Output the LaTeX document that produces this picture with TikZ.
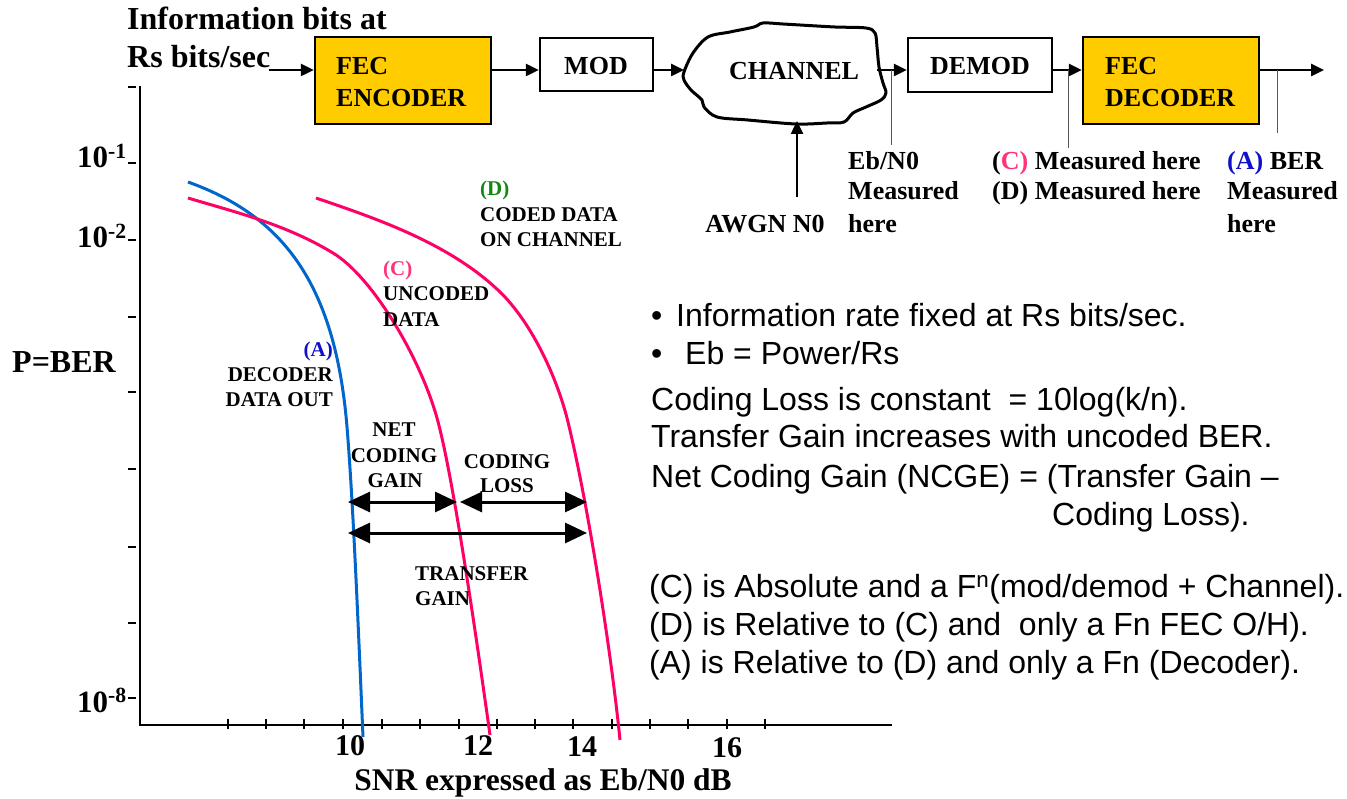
\documentclass[tikz,border=0pt]{standalone}
\usepackage{fontspec}
\setmainfont{Liberation Serif}
\newfontfamily\notefont{Liberation Sans}
\usetikzlibrary{arrows.meta}
\definecolor{fecfill}{HTML}{FFCC00}
\definecolor{curveA}{HTML}{0066CC}
\definecolor{curveC}{HTML}{FF0066}
\definecolor{tagA}{HTML}{1010CC}
\definecolor{tagC}{HTML}{FF3377}
\definecolor{tagD}{HTML}{118811}
\definecolor{tapgray}{HTML}{555555}
\newcommand{\fs}[1]{\fontsize{#1}{#1}\selectfont}
\begin{document}
\begin{tikzpicture}[x=1pt,y=-1pt,
  blk/.style={draw=black, line width=2.5pt, inner sep=0},
  fecblk/.style={blk, fill=fecfill},
  blklbl/.style={inner sep=0, font=\bfseries\fs{26}},
  flowarrow/.style={line width=2.5pt, -{Triangle[length=13pt,width=12pt]}},
  tapline/.style={draw=tapgray, line width=1pt},
  plotaxis/.style={line width=2.5pt},
  axtick/.style={line width=2pt},
  berline/.style={line width=3pt},
  plbl/.style={inner sep=0, font=\bfseries\fs{21}},
  gainarrow/.style={line width=3pt, {Triangle[length=22pt,width=20pt]}-{Triangle[length=22pt,width=20pt]}},
  ylbl/.style={inner sep=0, anchor=base east, font=\bfseries\fs{31}},
  xlbl/.style={inner sep=0, anchor=base, font=\bfseries\fs{30}},
  textnote/.style={inner sep=0, anchor=base west, font=\notefont\fs{32}},
]
\useasboundingbox (0,0) rectangle (1347,799);

% ---------------- block chain ----------------
\node[inner sep=0, anchor=base west, font=\bfseries\fs{32}] (info1) at (127,30) {Information bits at};
\node[inner sep=0, anchor=base west, font=\bfseries\fs{32}] (info2) at (127,68) {Rs bits/sec};

\node[fecblk, minimum width=176pt, minimum height=87pt] (enc) at (403,80.5) {};
\node[blk, minimum width=113pt, minimum height=53pt] (mod) at (596.5,64.5) {};
\node[blk, minimum width=144pt, minimum height=54pt] (demod) at (980,65) {};
\node[fecblk, minimum width=176pt, minimum height=87pt] (dec) at (1171,80.5) {};

\node[blklbl, anchor=base west] (enc1) at (336,75) {FEC};
\node[blklbl, anchor=base west] (enc2) at (336,107) {ENCODER};
\node[blklbl, anchor=base] (modl) at (596,75) {MOD};
\node[blklbl, anchor=base] (deml) at (980,75) {DEMOD};
\node[blklbl, anchor=base west] (dec1) at (1105,75) {FEC};
\node[blklbl, anchor=base west] (dec2) at (1105,107) {DECODER};

% channel cloud
\draw[line width=3pt, line join=round]
  plot[smooth cycle, tension=0.55] coordinates {
    (684,72) (693,53) (708,37) (730,32) (754,27) (763,23) (783,24)
    (800,25) (835,27) (866,28) (875,33) (877,47) (879,67) (883,83)
    (886,93) (881,100) (866,107) (853,113) (844,122) (827,123)
    (796,124) (748,120) (717,117) (704,107) (702,100) (691,90) (684,80)};
\node[blklbl, anchor=base] (chl) at (794,80) {CHANNEL};

\coordinate (src) at (269,70);
\coordinate (chin) at (684,70);
\coordinate (chout) at (877,70);
\coordinate (sink) at (1324,70);
\coordinate (noise) at (797,197);
\coordinate (chbot) at (797,121);

\draw[flowarrow] (src) -- (src -| enc.west);
\draw[flowarrow] (src -| enc.east) -- (src -| mod.west);
\draw[flowarrow] (src -| mod.east) -- (chin);
\draw[flowarrow] (chout) -- (src -| demod.west);
\draw[flowarrow] (src -| demod.east) -- (src -| dec.west);
\draw[flowarrow] (src -| dec.east) -- (sink);
\draw[flowarrow] (noise) -- (chbot);

% measurement taps
\coordinate (tapE) at (891,70);  \coordinate (tapEend) at (891,145);
\coordinate (tapC) at (1068,70); \coordinate (tapCend) at (1068,148);
\coordinate (tapA) at (1277,70); \coordinate (tapAend) at (1277,133);
\draw[tapline] (tapE) -- (tapEend);
\draw[tapline] (tapC) -- (tapCend);
\draw[tapline] (tapA) -- (tapAend);

\node[blklbl, anchor=base] (awgn) at (765,233) {AWGN N0};
\node[blklbl, anchor=base west] (eb1) at (848,170) {Eb/N0};
\node[blklbl, anchor=base west] (eb2) at (848,200) {Measured};
\node[blklbl, anchor=base west] (eb3) at (848,233) {here};
\node[blklbl, anchor=base west] (mc) at (992,170) {(\textcolor{tagC}{C)} Measured here};
\node[blklbl, anchor=base west] (md) at (992,200) {(D) Measured here};
\node[blklbl, anchor=base west] (ma1) at (1227,170) {\textcolor{tagA}{(A)} BER};
\node[blklbl, anchor=base west] (ma2) at (1227,200) {Measured};
\node[blklbl, anchor=base west] (ma3) at (1227,233) {here};

% ---------------- BER plot ----------------
\coordinate (origin) at (140,725);
\coordinate (ytop) at (140,86);
\coordinate (xend) at (892,725);
\draw[plotaxis] (ytop) -- (origin) -- (xend);

\foreach \yy in {87,163,240,317,392,469,547,623,698}
  \draw[axtick] (128,\yy) -- (136,\yy);
\foreach \xx in {228,266,304,343,382,420,459,497,535,573,612,650,688,727,765}
  \draw[axtick] (\xx,719) -- (\xx,729);

\node[ylbl] (y1) at (127,168) {10\textsuperscript{-1}};
\node[ylbl] (y2) at (127,248) {10\textsuperscript{-2}};
\node[ylbl] (y8) at (127,712) {10\textsuperscript{-8}};
\node[inner sep=0, anchor=base west, font=\bfseries\fs{32}] (ylab) at (12,373) {P=BER};

\node[xlbl] (x10) at (350,755) {10};
\node[xlbl] (x12) at (478,755) {12};
\node[xlbl] (x14) at (582,756) {14};
\node[xlbl] (x16) at (727,757) {16};
\node[inner sep=0, anchor=base, font=\bfseries\fs{31.5}] (xlab) at (543,790) {SNR expressed as Eb/N0 dB};

% decoder output (A)
\draw[berline, curveA] (188,182) .. controls (280,215) and (335,280) .. (347,427)
                                 .. controls (353,500) and (358,620) .. (363,737);
% uncoded data (C)
\draw[berline, curveC] (188,198) .. controls (236,212.4) and (285,224) .. (333,253)
                                 .. controls (373,277.4) and (420.2,358) .. (437,418)
                                 .. controls (453.8,478) and (478.8,655) .. (490,735);
% coded data on channel (D)
\draw[berline, curveC] (316,198) .. controls (376,218.4) and (450,243.5) .. (500,292)
                                 .. controls (530,321) and (555.3,373) .. (567,418)
                                 .. controls (587,498) and (611,650) .. (620,740);

\node[plbl, anchor=base east, text=tagA] (la0) at (333,357) {(A)};
\node[plbl, anchor=base east] (la1) at (333,382) {DECODER};
\node[plbl, anchor=base east] (la2) at (333,407) {DATA OUT};
\node[plbl, anchor=base west, text=tagC] (lc0) at (383,276) {(C)};
\node[plbl, anchor=base west] (lc1) at (383,301) {UNCODED};
\node[plbl, anchor=base west] (lc2) at (383,327) {DATA};
\node[plbl, anchor=base west, text=tagD] (ld0) at (480,196) {(D)};
\node[plbl, anchor=base west] (ld1) at (480,222) {CODED DATA};
\node[plbl, anchor=base west] (ld2) at (480,247) {ON CHANNEL};

% gain / loss spans
\coordinate (ngL) at (348,502);
\coordinate (ngR) at (457,502);
\coordinate (clL) at (460,502);
\coordinate (clR) at (587,502);
\coordinate (tgL) at (348,533);
\coordinate (tgR) at (587,533);
\draw[gainarrow] (ngL) -- (ngR);
\draw[gainarrow] (clL) -- (clR);
\draw[gainarrow] (tgL) -- (tgR);

\node[plbl, anchor=base] (ng1) at (394,436) {NET};
\node[plbl, anchor=base] (ng2) at (394,462) {CODING};
\node[plbl, anchor=base] (ng3) at (395,487) {GAIN};
\node[plbl, anchor=base] (cl1) at (507,468) {CODING};
\node[plbl, anchor=base] (cl2) at (507,493) {LOSS};
\node[plbl, anchor=base west] (tg1) at (415,580) {TRANSFER};
\node[plbl, anchor=base west] (tg2) at (415,605) {GAIN};

% ---------------- notes ----------------
\node[textnote] (b1) at (651,327) {\textbullet};
\node[textnote] (n1) at (676,327) {Information rate fixed at Rs bits/sec.};
\node[textnote] (b2) at (651,365) {\textbullet};
\node[textnote] (n2) at (685,365) {Eb = Power/Rs};
\node[textnote] (n3) at (651,410) {Coding Loss is constant \ = 10log(k/n).};
\node[textnote] (n4) at (651,448) {Transfer Gain increases with uncoded BER.};
\node[textnote] (n5) at (651,487) {Net Coding Gain (NCGE) = (Transfer Gain –};
\node[textnote] (n6) at (1052,525) {Coding Loss).};
\node[textnote] (n7) at (649,597) {(C) is Absolute and a F\textsuperscript{n}(mod/demod + Channel).};
\node[textnote] (n8) at (649,635) {(D) is Relative to (C) and \ only a Fn FEC O/H).};
\node[textnote] (n9) at (649,673) {(A) is Relative to (D) and only a Fn (Decoder).};
\end{tikzpicture}
\end{document}
